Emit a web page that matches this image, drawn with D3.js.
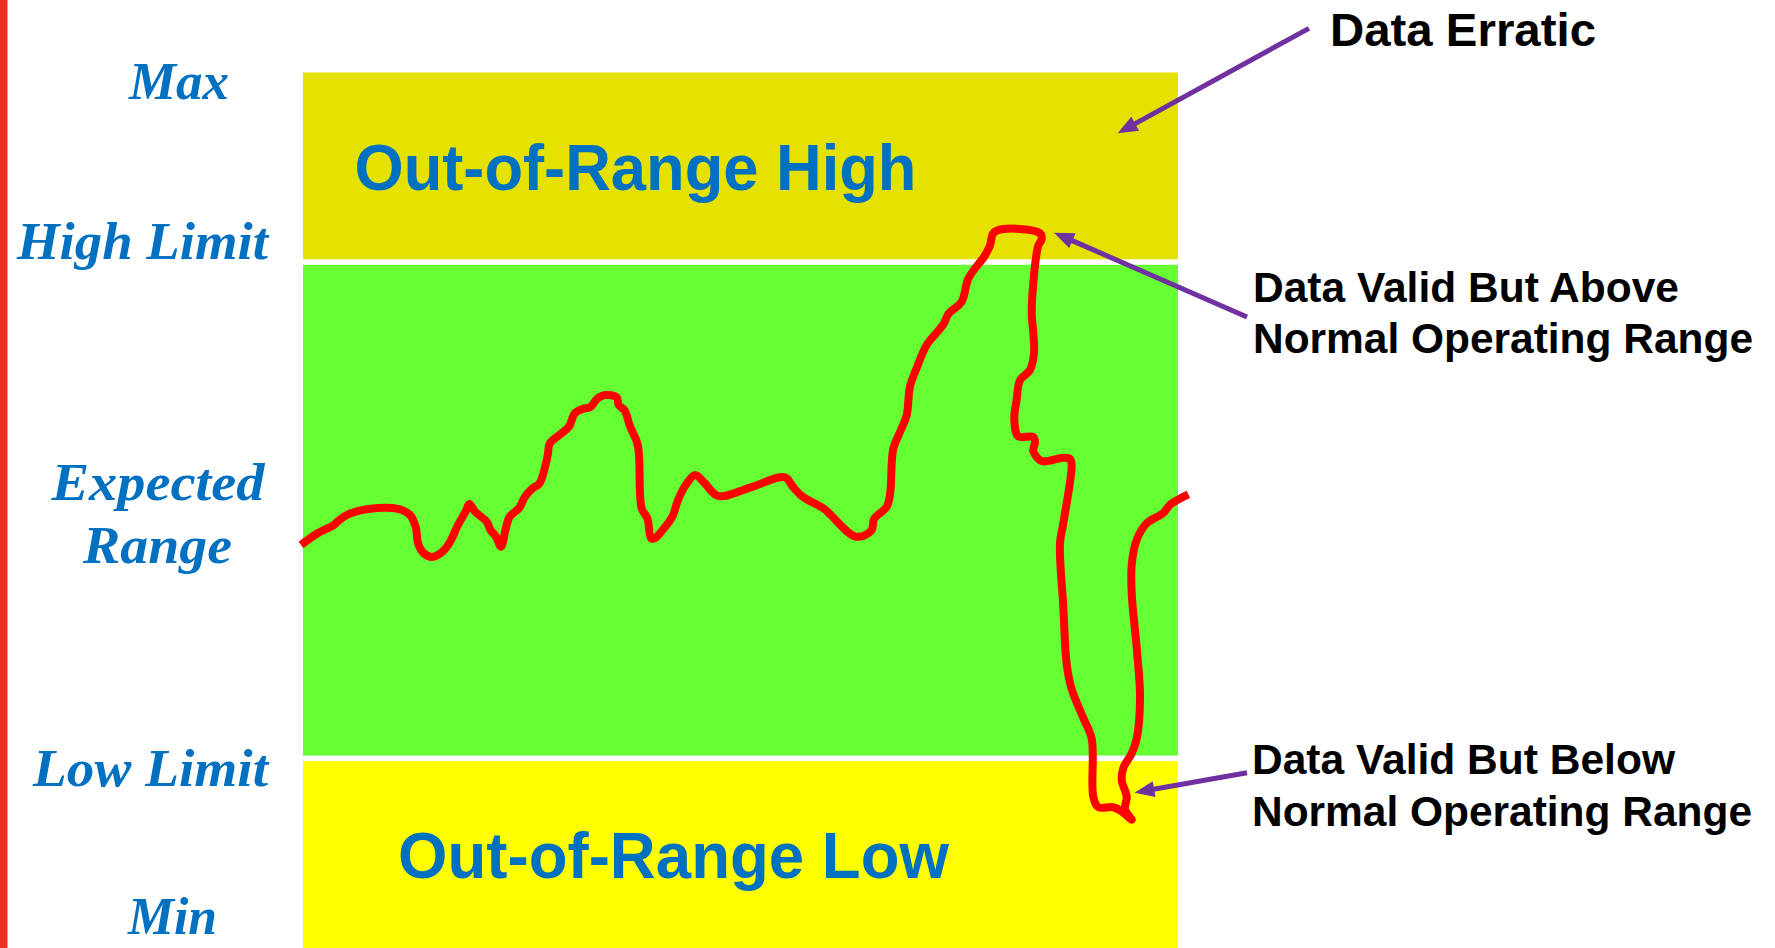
<!DOCTYPE html>
<html>
<head>
<meta charset="utf-8">
<title>Sensor Data Range Validation</title>
<script src="https://cdn.jsdelivr.net/npm/d3@7/dist/d3.min.js"></script>
<style>
  html, body { margin: 0; padding: 0; background: #ffffff; }
  svg { display: block; }
</style>
</head>
<body>
<svg id="chart" width="1775" height="948"></svg>
<script>
// ---- Range levels (value units) ----
const levelNames  = ["Min", "Low Limit", "High Limit", "Max"];
const levelValues = [0, 22.2, 78.5, 100];

// ---- Zones between levels ----
const zoneNames  = ["Out-of-Range Low", "Expected Range", "Out-of-Range High"];
const zoneFrom   = [0, 22.2, 78.5];
const zoneTo     = [22.2, 78.5, 100];
const zoneColors = ["#FFFF00", "#66FF33", "#E5E100"];

// ---- Measured signal trace (time, value) ----
const sampleTime = [
  -0.23, 1.71, 3.54, 4.0, 5.26, 7.43, 10.97, 12.23, 12.91, 13.14,
  13.77, 14.74, 15.95, 16.8, 17.71, 18.58, 19.02, 19.66, 20.99, 21.43,
  22.06, 22.63, 23.18, 23.61, 24.69, 25.37, 26.24, 27.03, 27.77, 28.0,
  28.21, 29.3, 30.4, 31.05, 31.92, 32.8, 33.67, 34.55, 35.86, 36.08,
  36.73, 37.39, 38.26, 38.7, 39.36, 39.79, 40.23, 41.11, 42.21, 42.86,
  43.74, 44.82, 45.92, 47.45, 51.17, 55.09, 55.98, 56.86, 57.71, 59.47,
  63.2, 64.95, 65.26, 66.71, 67.09, 67.46, 68.23, 68.99, 69.37, 70.14,
  71.28, 73.18, 73.75, 75.28, 76.03, 77.18, 77.75, 78.51, 78.89, 80.03,
  84.23, 84.42, 84.03, 83.28, 83.46, 83.54, 83.09, 81.94, 81.57, 81.29,
  81.75, 83.46, 83.66, 83.46, 84.42, 86.89, 87.66, 87.85, 86.89, 86.51,
  86.89, 87.28, 87.85, 89.18, 90.14, 90.32, 90.89, 92.61, 93.57, 94.71,
  93.94, 94.14, 93.57, 93.75, 94.71, 95.28, 95.66, 95.28, 94.71, 94.71,
  95.28, 96.42, 98.32, 99.09, 100.23, 101.18
];
const sampleValue = [
  46.4, 47.76, 48.67, 49.12, 49.92, 50.48, 50.48, 49.8, 48.33, 46.63,
  45.49, 45.04, 45.64, 46.74, 48.67, 50.18, 51.05, 50.18, 49.04, 48.1,
  47.34, 46.21, 48.29, 49.61, 50.56, 51.88, 52.83, 53.4, 55.67, 56.8,
  57.93, 58.88, 59.82, 61.34, 61.83, 62.02, 63.04, 63.41, 63.15, 62.28,
  61.71, 59.82, 57.74, 50.56, 49.43, 47.16, 47.19, 48.1, 49.61, 51.5,
  53.2, 54.34, 53.4, 51.96, 52.94, 54.08, 53.01, 52.07, 51.5, 50.56,
  47.34, 48.02, 49.35, 50.74, 52.18, 57.32, 59.22, 61.09, 64.38, 66.48,
  69.09, 71.42, 72.6, 74.01, 76.6, 78.25, 78.96, 80.36, 81.77, 82.24,
  81.77, 81.07, 80.36, 72.83, 70.49, 68.13, 66.25, 65.08, 62.96, 60.61,
  58.73, 58.65, 58.03, 57.08, 55.92, 56.29, 56.15, 55.44, 48.86, 46.51,
  39.46, 32.88, 30.05, 26.77, 24.41, 17.83, 16.65, 16.65, 16.18, 15.24,
  16.42, 17.82, 19.71, 21.11, 22.76, 24.4, 29.11, 34.75, 40.86, 44.15,
  46.98, 48.86, 50.03, 50.97, 51.68, 52.15
];

// ---- Callouts: text lines, arrow tail and arrow tip (time, value) ----
const calloutLines = [
  ["Data Erratic"],
  ["Data Valid But Above", "Normal Operating Range"],
  ["Data Valid But Below", "Normal Operating Range"]
];
const calloutTailTime  = [114.97, 107.89, 107.89];
const calloutTailValue = [105.01, 72.26, 20.57];
const calloutTipTime   = [93.1, 85.83, 95.02];
const calloutTipValue  = [93.1, 81.83, 18.3];

// ---------------------------------------------------------------
const W = 1775, H = 948;
const svg = d3.select("#chart");

const x = d3.scaleLinear().domain([0, 100]).range([303, 1178]);
const y = d3.scaleLinear().domain([0, 100]).range([954, 72.5]);

const BLUE = "#0070C0";
const PURPLE = "#7030A0";
const gap = 5.5; // white separation between zones

// accent bar along the left edge
svg.append("rect")
  .attr("x", 0).attr("y", 0)
  .attr("width", 7.5).attr("height", H)
  .attr("fill", "#EF3028");

// zone bands
const zones = zoneNames.map((name, i) => ({
  name, from: zoneFrom[i], to: zoneTo[i], color: zoneColors[i]
}));
const bandTop = d => y(d.to) + (d.to < 100 ? gap / 2 : 0);
const bandBottom = d => y(d.from) - (d.from > 0 ? gap / 2 : 0);
svg.append("g").selectAll("rect")
  .data(zones)
  .join("rect")
  .attr("x", x(0))
  .attr("width", x(100) - x(0))
  .attr("y", bandTop)
  .attr("height", d => bandBottom(d) - bandTop(d))
  .attr("fill", d => d.color);

// zone titles inside the out-of-range bands
const zoneTitle = svg.append("g")
  .attr("font-family", "'Liberation Sans', Arial, sans-serif")
  .attr("font-weight", "bold")
  .attr("font-size", 64)
  .attr("fill", BLUE)
  .attr("text-anchor", "middle");
zoneTitle.append("text")
  .attr("x", 635.5).attr("y", 190)
  .attr("textLength", 562).attr("lengthAdjust", "spacingAndGlyphs")
  .text(zoneNames[2]);
zoneTitle.append("text")
  .attr("x", 673.5).attr("y", 878)
  .attr("textLength", 551).attr("lengthAdjust", "spacingAndGlyphs")
  .text(zoneNames[0]);

// level labels on the left
const levelLabel = svg.append("g")
  .attr("font-family", "'Liberation Serif', 'Times New Roman', serif")
  .attr("font-weight", "bold")
  .attr("font-style", "italic")
  .attr("font-size", 53)
  .attr("fill", BLUE)
  .attr("text-anchor", "middle");
const leftLabels = [
  { text: levelNames[3], cx: 179,   by: 99,  w: 100 },
  { text: levelNames[2], cx: 142.5, by: 259, w: 251 },
  { text: zoneNames[1].split(" ")[0], cx: 158, by: 500, w: 213 },
  { text: zoneNames[1].split(" ")[1], cx: 157.5, by: 563, w: 149 },
  { text: levelNames[1], cx: 150.5, by: 786, w: 235 },
  { text: levelNames[0], cx: 172.5, by: 934, w: 89 }
];
levelLabel.selectAll("text")
  .data(leftLabels)
  .join("text")
  .attr("x", d => d.cx)
  .attr("y", d => d.by)
  .attr("textLength", d => d.w)
  .attr("lengthAdjust", "spacingAndGlyphs")
  .text(d => d.text);

// signal trace
const samples = sampleTime.map((t, i) => ({ t, v: sampleValue[i] }));
const line = d3.line()
  .x(d => x(d.t))
  .y(d => y(d.v))
  .curve(d3.curveCatmullRom.alpha(0.5));
svg.append("path")
  .datum(samples)
  .attr("d", line)
  .attr("fill", "none")
  .attr("stroke", "#FF0000")
  .attr("stroke-width", 8)
  .attr("stroke-linejoin", "round")
  .attr("stroke-linecap", "butt");

// callout arrows
const headLen = 20, headHalf = 8;
const arrows = svg.append("g");
calloutLines.forEach((lines, i) => {
  const x1 = x(calloutTailTime[i]), y1 = y(calloutTailValue[i]);
  const x2 = x(calloutTipTime[i]),  y2 = y(calloutTipValue[i]);
  const dx = x2 - x1, dy = y2 - y1;
  const len = Math.hypot(dx, dy);
  const ux = dx / len, uy = dy / len;
  const bx = x2 - ux * headLen, by = y2 - uy * headLen;
  arrows.append("line")
    .attr("x1", x1).attr("y1", y1)
    .attr("x2", bx + ux * 2).attr("y2", by + uy * 2)
    .attr("stroke", PURPLE)
    .attr("stroke-width", 5);
  arrows.append("polygon")
    .attr("points", [
      [x2, y2],
      [bx - uy * headHalf, by + ux * headHalf],
      [bx + uy * headHalf, by - ux * headHalf]
    ].map(p => p.join(",")).join(" "))
    .attr("fill", PURPLE);
});

// callout texts
const callout = svg.append("g")
  .attr("font-family", "'Liberation Sans', Arial, sans-serif")
  .attr("font-weight", "bold")
  .attr("fill", "#000000");
const calloutLayout = [
  { x: 1330, y: [46],         size: 46.5, w: [266] },
  { x: 1253, y: [302, 352.5], size: 42,   w: [426, 500] },
  { x: 1252, y: [773.5, 826], size: 42,   w: [423, 500] }
];
calloutLines.forEach((lines, i) => {
  const L = calloutLayout[i];
  lines.forEach((txt, j) => {
    callout.append("text")
      .attr("x", L.x)
      .attr("y", L.y[j])
      .attr("font-size", L.size)
      .attr("textLength", L.w[j])
      .attr("lengthAdjust", "spacingAndGlyphs")
      .text(txt);
  });
});
</script>
</body>
</html>
